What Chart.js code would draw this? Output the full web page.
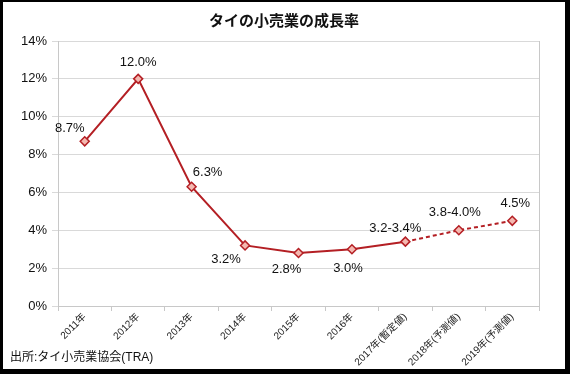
<!DOCTYPE html>
<html>
<head>
<meta charset="utf-8">
<script src="https://cdn.jsdelivr.net/npm/chart.js@4.4.1/dist/chart.umd.min.js"></script>
<style>
html,body{margin:0;padding:0;background:#fff;}
#wrap{width:570px;height:374px;box-sizing:border-box;border-style:solid;border-color:#000;border-width:2px 5px 5px 3px;background:#fff;}
canvas{display:block;}
</style>
</head>
<body>
<div id="wrap"><canvas id="c" width="562" height="367"></canvas></div>
<script>
const categories = ['2011年','2012年','2013年','2014年','2015年','2016年','2017年(暫定値)','2018年(予測値)','2019年(予測値)'];
const growth = [8.7, 12.0, 6.3, 3.2, 2.8, 3.0, 3.4, 4.0, 4.5];
const valueLabels = ['8.7%','12.0%','6.3%','3.2%','2.8%','3.0%','3.2-3.4%','3.8-4.0%','4.5%'];
const yTicks = [0, 2, 4, 6, 8, 10, 12, 14];
const titleText = 'タイの小売業の成長率';
const sourceText = '出所:タイ小売業協会(TRA)';

// label offsets relative to each point (style, not data)
const labelOffsetX = [-15, 0, 16, -19, -12, -4, -10, -4, 3];
const labelOffsetY = [-13, -16, -14, 14, 16, 19, -13, -18, -17];

const FONT = '"Liberation Sans", Arial, "Noto Sans CJK JP", sans-serif';
const JFONT = '"Noto Sans CJK JP", "Liberation Sans", sans-serif';

const labelPlugin = {
  id: 'valueLabels',
  afterDatasetsDraw(chart) {
    const ctx = chart.ctx;
    const meta = chart.getDatasetMeta(0);
    ctx.save();
    ctx.font = '13px ' + FONT;
    ctx.fillStyle = '#111';
    ctx.textAlign = 'center';
    ctx.textBaseline = 'middle';
    meta.data.forEach((pt, i) => {
      ctx.fillText(valueLabels[i], pt.x + labelOffsetX[i], pt.y + labelOffsetY[i]);
    });
    ctx.restore();
  },
  afterDraw(chart) {
    const ctx = chart.ctx;
    ctx.save();
    ctx.font = '12px ' + FONT;
    ctx.fillStyle = '#111';
    ctx.textAlign = 'left';
    ctx.textBaseline = 'middle';
    ctx.fillText(sourceText, 7, 356);
    ctx.restore();
  }
};

new Chart(document.getElementById('c'), {
  type: 'line',
  data: {
    labels: categories,
    datasets: [{
      data: growth,
      borderColor: '#B41F24',
      borderWidth: 2,
      pointStyle: 'rectRot',
      pointRadius: 4.5,
      pointHoverRadius: 4.5,
      pointBackgroundColor: '#F4B8B0',
      pointBorderColor: '#B41F24',
      pointBorderWidth: 1.5,
      tension: 0,
      segment: {
        borderDash: c => c.p0DataIndex >= 6 ? [4, 3] : undefined
      }
    }]
  },
  options: {
    responsive: false,
    animation: false,
    layout: { padding: { left: 0, right: 0, top: 0, bottom: 0 } },
    plugins: {
      legend: { display: false },
      tooltip: { enabled: false },
      title: {
        display: true,
        text: titleText,
        color: '#111',
        font: { family: JFONT, size: 15, weight: 'bold' },
        padding: { top: 9, bottom: 12 }
      }
    },
    scales: {
      x: {
        offset: true,
        grid: { offset: true, drawOnChartArea: false, tickLength: 5, color: '#c8c8c8' },
        border: { color: '#c8c8c8' },
        ticks: {
          autoSkip: false, maxRotation: 45, minRotation: 45, padding: 0,
          color: '#222', font: { family: FONT, size: 10 }
        },
        afterFit(s) { s.height = 63; }
      },
      y: {
        min: 0, max: 14,
        afterBuildTicks(s) { s.ticks = yTicks.map(v => ({ value: v })); },
        grid: { color: '#d9d9d9', tickLength: 6 },
        border: { color: '#c8c8c8' },
        ticks: {
          padding: 5, color: '#111',
          font: { family: FONT, size: 13 },
          callback: v => v + '%'
        },
        afterFit(s) { s.width = 55; }
      },
      y2: {
        position: 'right',
        min: 0, max: 14,
        grid: { drawOnChartArea: false, drawTicks: false },
        border: { display: true, color: '#c8c8c8' },
        ticks: { display: false },
        afterFit(s) { s.width = 26; }
      }
    }
  },
  plugins: [labelPlugin]
});
</script>
</body>
</html>
